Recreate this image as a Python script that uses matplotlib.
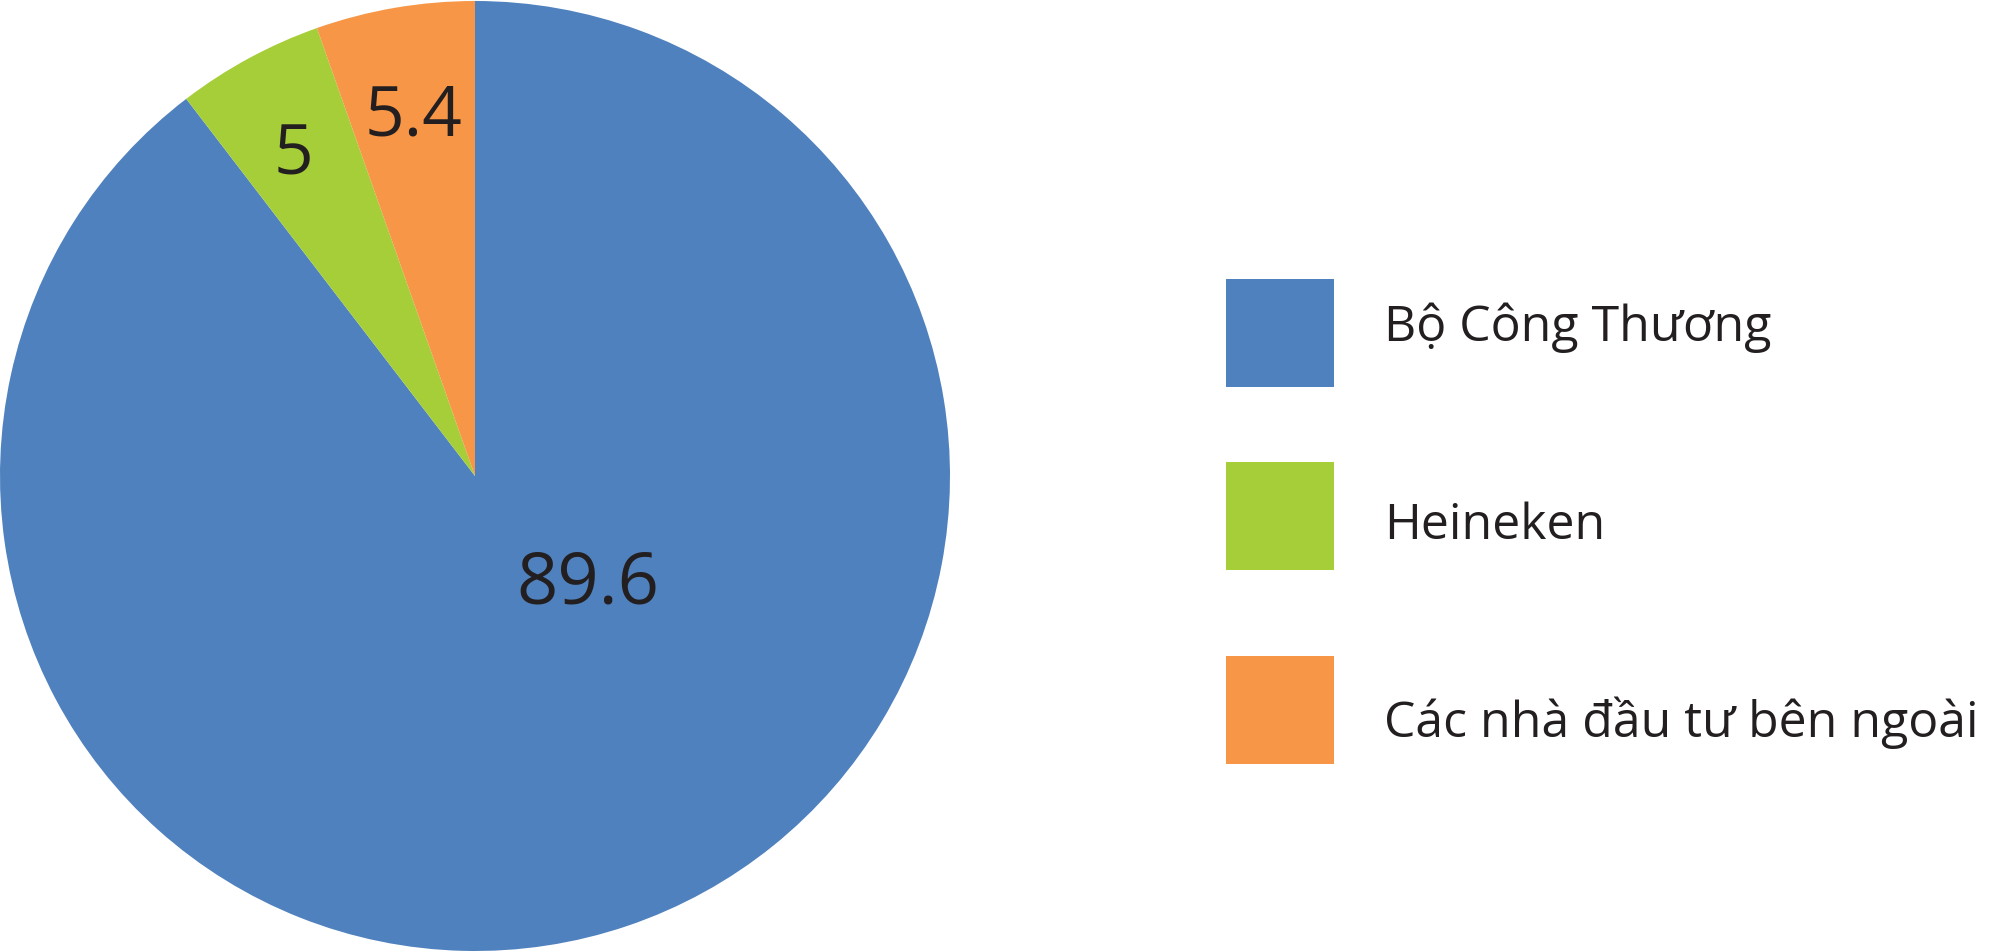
import matplotlib
matplotlib.use('Agg')
import matplotlib.pyplot as plt
from matplotlib.patches import Rectangle, Wedge
from matplotlib.legend_handler import HandlerPatch

plt.rcParams['font.family'] = ['Open Sans', 'DejaVu Sans']

# data
labels = ['Bộ Công Thương', 'Heineken', 'Các nhà đầu tư bên ngoài']
values = [89.6, 5, 5.4]
value_text = ['89.6', '5', '5.4']
colors = ['#4F81BE', '#A6CE39', '#F79646']
TEXT = '#231F20'

fig = plt.figure(figsize=(20, 9.52), dpi=100)
ax = fig.add_axes([0, 0, 950 / 2000, 1])

wedges, texts, autotexts = ax.pie(values, colors=colors, startangle=90, counterclock=False,
                                  radius=1, autopct='%.1f', pctdistance=0.765,
                                  wedgeprops=dict(linewidth=0),
                                  textprops=dict(fontsize=50, color=TEXT))
for t, s in zip(autotexts, value_text):
    t.set_text(s)
# big slice label sits off its bisector in the original
autotexts[0].set_position((0.238, -0.23))
autotexts[0].set_fontsize(52)
x5, y5 = autotexts[1].get_position()
autotexts[1].set_position((x5 - 0.018, y5))
ax.set_xlim(-1, 1)
ax.set_ylim(-1, 1)
ax.set_aspect('equal')
ax.axis('off')

# how far each legend square reaches below its label's baseline (x fontsize)
square_drop = {id(w): d for w, d in zip(wedges, [0.92, 0.62, 0.54])}


def square(legend, orig_handle, xdescent, ydescent, width, height, fontsize):
    drop = square_drop[id(orig_handle)] * fontsize
    return Rectangle((-xdescent, -drop), width, width)


fs = 36
leg = fig.legend(wedges, labels, loc='upper left', bbox_to_anchor=(1226 / 2000, 1 - 284.5 / 952),
                 frameon=False, fontsize=fs, handlelength=2.16, handleheight=2.16,
                 handletextpad=1.0, labelspacing=2.31, borderpad=0, borderaxespad=0,
                 handler_map={Wedge: HandlerPatch(patch_func=square)})
for t in leg.get_texts():
    t.set_color(TEXT)
for h in leg.legend_handles:
    h.set_linewidth(0)

fig.savefig('out.png', dpi=100, facecolor='white')
